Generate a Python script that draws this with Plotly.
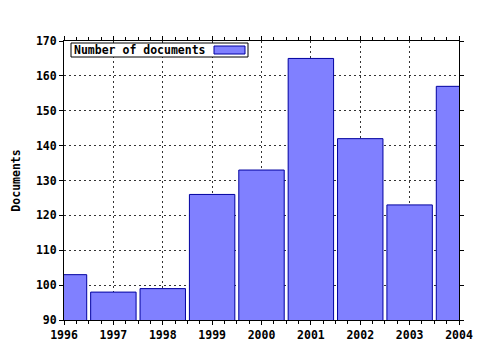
import plotly.graph_objects as go

years = [1996, 1997, 1998, 1999, 2000, 2001, 2002, 2003, 2004]
documents = [103, 98, 99, 126, 133, 165, 142, 123, 157]
series_name = "Number of documents"
y_title = "Documents"

FONT = dict(family="DejaVu Sans Mono", size=11.5, color="black", weight="bold")

fig = go.Figure()
fig.add_trace(go.Bar(
    x=years, y=documents, name=series_name, width=0.92,
    marker=dict(color="#8080FF", line=dict(color="#0000A0", width=1)),
    showlegend=False,
))

axis_common = dict(
    showline=True, linecolor="black", linewidth=1, mirror="ticks",
    ticks="outside", ticklen=4, tickcolor="black",
    showgrid=True, gridcolor="#333333", griddash="2px,3px", gridwidth=1,
    zeroline=False, tickfont=FONT, automargin=False,
)

fig.update_xaxes(
    range=[1996, 2004], tickmode="linear", tick0=1996, dtick=1,
    minor=dict(dtick=0.25, ticks="outside", ticklen=3, tickcolor="black", showgrid=False),
    **axis_common,
)
fig.update_yaxes(
    range=[90, 170], tickmode="linear", tick0=90, dtick=10,
    title=dict(text=y_title, font=FONT, standoff=12),
    **axis_common,
)

# legend (text left, swatch right)
fig.add_shape(type="rect", xref="paper", yref="paper",
              x0=7/395, x1=184/395, y0=1-16/279, y1=1-2/279,
              line=dict(color="black", width=1), fillcolor="white", layer="above")
fig.add_annotation(xref="paper", yref="paper", x=8/395, y=1-9/279,
                   xanchor="left", yanchor="middle", showarrow=False,
                   text=series_name, font=FONT)
fig.add_shape(type="rect", xref="paper", yref="paper",
              x0=150/395, x1=181/395, y0=1-13/279, y1=1-5/279,
              line=dict(color="#0000A0", width=1), fillcolor="#8080FF", layer="above")

fig.update_layout(
    width=480, height=350,
    margin=dict(l=64, r=21, t=41, b=30),
    paper_bgcolor="white", plot_bgcolor="white",
    font=FONT, bargap=0.08,
)

fig.write_html("out.html")
